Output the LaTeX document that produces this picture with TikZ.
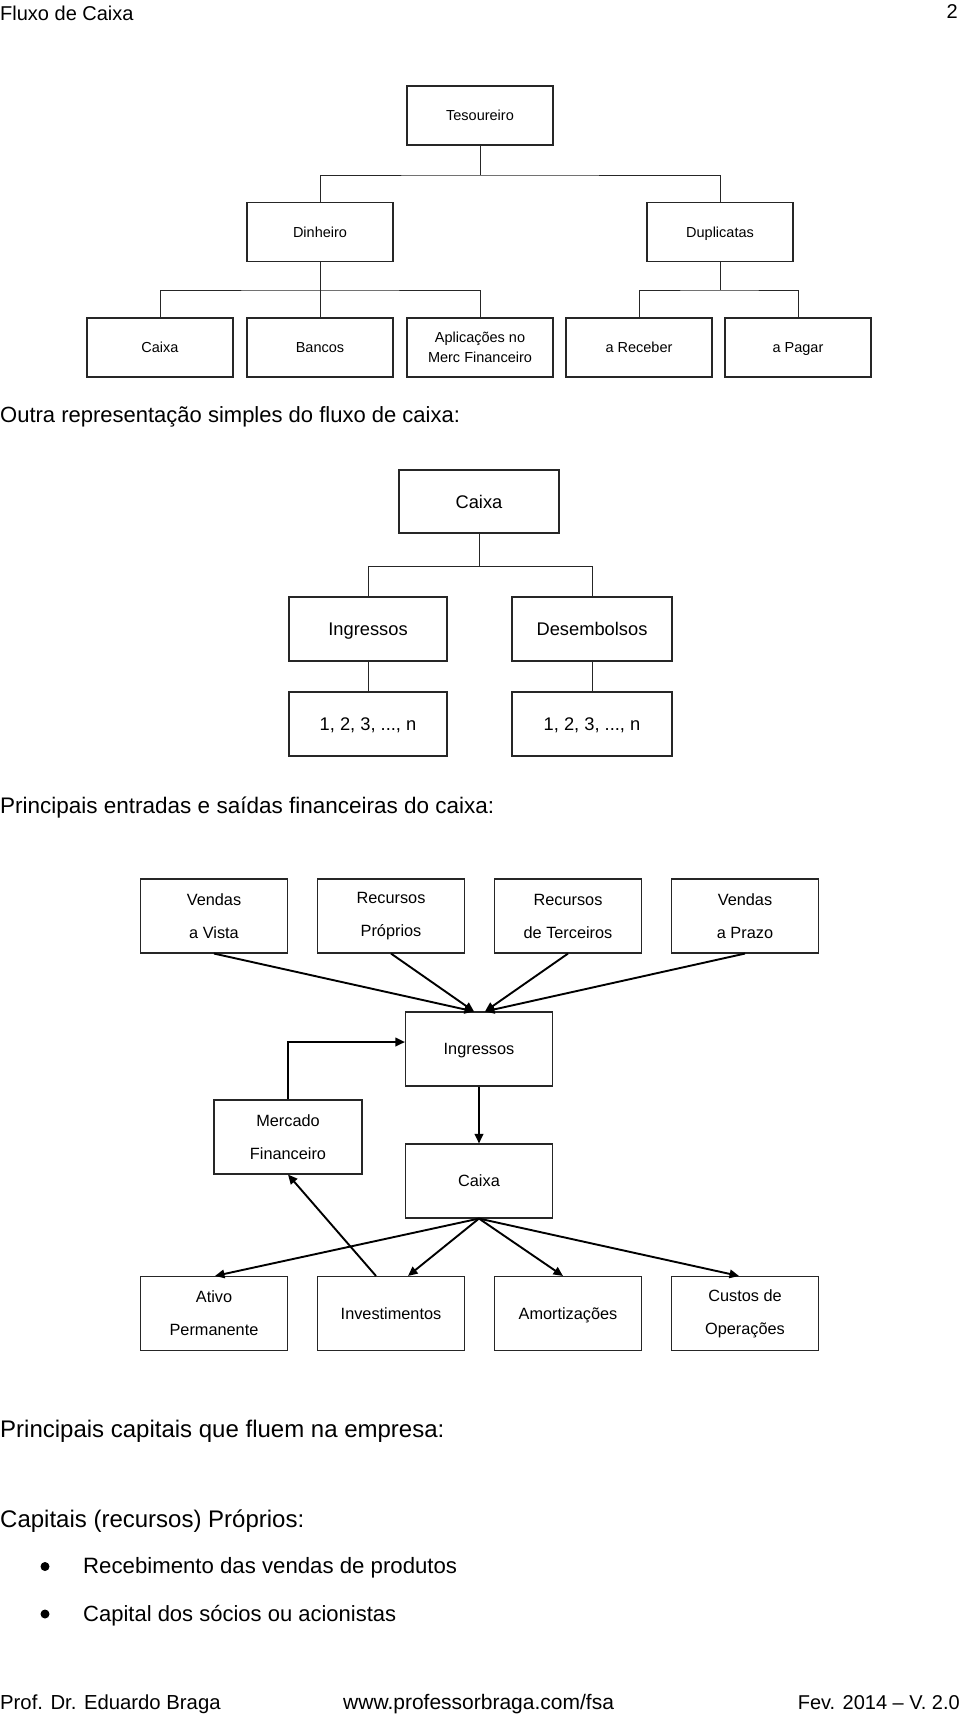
\documentclass[tikz,border=0pt]{standalone}
\usepackage{fontspec}
\setmainfont{Liberation Sans}
\usetikzlibrary{arrows.meta,calc}
\begin{document}
\begin{tikzpicture}[x=1pt,y=-1pt,
  box/.style={draw=black!85, line width=1.1pt, inner sep=0pt, align=center, text=black},
  tbox/.style={box, minimum width=146pt, minimum height=59pt, font=\fontsize{14.5}{19.5}\selectfont},
  t1/.style={text height=10.4pt, text depth=0pt},
  mbox/.style={box, minimum height=64pt, font=\fontsize{18.3}{22}\selectfont, text height=13.1pt, text depth=0pt},
  fbox/.style={box, minimum width=147pt, minimum height=74pt, font=\fontsize{16.3}{33}\selectfont},
  f1/.style={text height=11.7pt, text depth=0pt},
  tree/.style={draw=black!85, line width=1pt},
  arr/.style={draw=black, line width=1.9pt, -{Triangle[length=9.5pt,width=8.5pt]}},
  txt/.style={anchor=base west, inner sep=0pt, text=black},
  dot/.style={circle, fill=black, minimum size=9pt, inner sep=0pt}]
\useasboundingbox (0,0) rectangle (960,1717);

% header
\node[txt, font=\fontsize{20}{24}\selectfont] (hdl) at (0,20) {Fluxo de Caixa};
\node[anchor=base east, inner sep=0pt, font=\fontsize{20}{24}\selectfont] (hdr) at (958,18) {2};

% ---- tree 1
\node[tbox, t1] (tes) at (480,115.5) {Tesoureiro};
\node[tbox, t1] (din) at (320,232) {Dinheiro};
\node[tbox, t1] (dup) at (720,232) {Duplicatas};
\node[tbox, t1] (cx1) at (160,347.5) {Caixa};
\node[tbox, t1] (ban) at (320,347.5) {Bancos};
\node[tbox] (apl) at (480,347.5) {Aplica\c{c}\~oes no\\Merc Financeiro};
\node[tbox, t1] (rec) at (639,347.5) {a Receber};
\node[tbox, t1] (pag) at (798,347.5) {a Pagar};
\coordinate (jt) at (480,175);
\coordinate (jd) at (320,290);
\coordinate (jp) at (720,290);
\draw[tree] (tes.south) -- (jt);
\draw[tree] (din.north) |- (jt) -| (dup.north);
\draw[tree] (din.south) -- (jd);
\draw[tree] (cx1.north) |- (jd) -| (apl.north);
\draw[tree] (ban.north) -- (jd);
\draw[tree] (dup.south) -- (jp);
\draw[tree] (rec.north) |- (jp) -| (pag.north);

% ---- section 2
\node[txt, font=\fontsize{22}{26}\selectfont] (t2) at (0,422) {Outra representa\c{c}\~ao simples do fluxo de caixa:};
\node[mbox, minimum width=160pt, minimum height=63pt] (cx2) at (479,501.5) {Caixa};
\node[mbox, minimum width=158pt] (in2) at (368,629) {Ingressos};
\node[mbox, minimum width=160pt] (de2) at (592,629) {Desembolsos};
\node[mbox, minimum width=158pt] (n1) at (368,724) {1, 2, 3, ..., n};
\node[mbox, minimum width=160pt] (n2) at (592,724) {1, 2, 3, ..., n};
\coordinate (jc) at (479,566);
\draw[tree] (cx2.south) -- (jc);
\draw[tree] (in2.north) |- (jc) -| (de2.north);
\draw[tree] (in2.south) -- (n1.north);
\draw[tree] (de2.south) -- (n2.north);

% ---- section 3
\node[txt, font=\fontsize{22.5}{26}\selectfont] (t3) at (0,813) {Principais entradas e sa\'idas financeiras do caixa:};
\node[fbox] (v1) at (214,916) {Vendas\\a Vista};
\node[fbox] (v2) at (391,916) {Recursos\\Pr\'oprios};
\node[fbox] (v3) at (568,916) {Recursos\\de Terceiros};
\node[fbox] (v4) at (745,916) {Vendas\\a Prazo};
\node[fbox, f1] (ig) at (479,1049) {Ingressos};
\node[fbox, minimum width=148pt] (mf) at (288,1137) {Mercado\\Financeiro};
\node[fbox, f1] (cx3) at (479,1181) {Caixa};
\node[fbox] (b1) at (214,1313.5) {Ativo\\Permanente};
\node[fbox, f1] (b2) at (391,1313.5) {Investimentos};
\node[fbox, f1] (b3) at (568,1313.5) {Amortiza\c{c}\~oes};
\node[fbox] (b4) at (745,1313.5) {Custos de\\Opera\c{c}\~oes};

\draw[arr] (v1.south) -- ([xshift=-5pt]ig.north);
\draw[arr] (v2.south) -- ([xshift=-5pt]ig.north);
\draw[arr] (v3.south) -- ([xshift=6pt]ig.north);
\draw[arr] (v4.south) -- ([xshift=6pt]ig.north);
\draw[arr] (mf.north) |- ([yshift=7pt]ig.west);
\draw[arr] (ig.south) -- (cx3.north);
\draw[arr] (cx3.south) -- ([xshift=1pt]b1.north);
\draw[arr] (cx3.south) -- ([xshift=17pt]b2.north);
\draw[arr] (cx3.south) -- ([xshift=-5pt]b3.north);
\draw[arr] (cx3.south) -- ([xshift=-6pt]b4.north);
\draw[arr] ([xshift=-15pt]b2.north) -- (mf.south);

% ---- section 4
\node[txt, font=\fontsize{24}{28}\selectfont] (t4) at (0,1437) {Principais capitais que fluem na empresa:};
\node[txt, font=\fontsize{24}{28}\selectfont] (t5) at (0,1527) {Capitais (recursos) Pr\'oprios:};
\node[dot] (bu1) at (45,1566.5) {};
\node[txt, font=\fontsize{22.2}{26}\selectfont] (l1) at (83,1573) {Recebimento das vendas de produtos};
\node[dot] (bu2) at (45,1614) {};
\node[txt, font=\fontsize{22}{26}\selectfont] (l2) at (83,1621) {Capital dos s\'ocios ou acionistas};

% footer
\node[txt, font=\fontsize{20.3}{24}\selectfont] (f1n) at (0,1709) {Prof. Dr. Eduardo Braga};
\node[txt, font=\fontsize{21}{24}\selectfont] (f2n) at (343,1709) {www.professorbraga.com/fsa};
\node[anchor=base east, inner sep=0pt, font=\fontsize{20}{24}\selectfont] (f3n) at (960,1709) {Fev. 2014 – V. 2.0};
\end{tikzpicture}
\end{document}
